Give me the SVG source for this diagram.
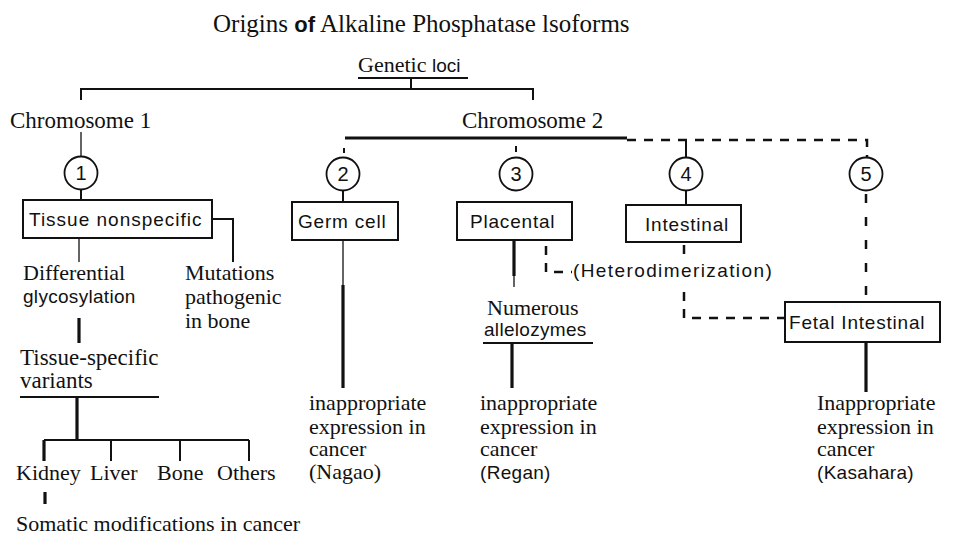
<svg xmlns="http://www.w3.org/2000/svg" width="957" height="538" viewBox="0 0 957 538">
<style>
.s{font-family:"Liberation Serif","Times New Roman",serif;font-size:22px;fill:#111}
.a{font-family:"Liberation Sans",Arial,sans-serif;font-size:19px;letter-spacing:0.8px;fill:#111}
.n{font-family:"Liberation Sans",Arial,sans-serif;font-size:20px;fill:#111;text-anchor:middle}
.box{fill:#fff;stroke:#111;stroke-width:2}
.c{fill:#fff;stroke:#111;stroke-width:1.8}
.l{stroke:#111;stroke-width:2;fill:none}
.t{stroke:#111;stroke-width:3.2;fill:none}
.th{stroke:#111;stroke-width:1.3;fill:none}
.d{stroke:#111;stroke-width:2.5;fill:none;stroke-dasharray:9 8}
.d2{stroke:#111;stroke-width:2.5;fill:none;stroke-dasharray:9 14}
</style>
<rect width="957" height="538" fill="#fff"/>
<g id="title"><text class="s" x="213" y="32" style="font-size:25px">Origins <tspan style="font-family:'Liberation Sans',Arial,sans-serif;font-weight:bold;font-size:22px">of</tspan> Alkaline Phosphatase lsoforms</text></g>
<g id="connectors">
<line class="l" x1="358" y1="78" x2="468" y2="78"/>
<line class="l" x1="411" y1="78" x2="411" y2="89"/>
<polyline class="l" points="81,100 81,89 533,89 533,100"/>
<line class="th" x1="81" y1="132" x2="81" y2="157"/>
<line class="l" x1="81" y1="190" x2="81" y2="200"/>
<polyline class="l" points="212,219 233,219 233,262"/>
<line class="th" x1="79" y1="238" x2="79" y2="262"/>
<line class="t" x1="79" y1="318" x2="79" y2="343"/>
<line class="l" x1="20" y1="397" x2="159" y2="397"/>
<line class="t" x1="77" y1="397" x2="77" y2="440"/>
<line class="l" x1="44" y1="440" x2="249" y2="440"/>
<line class="t" x1="44" y1="440" x2="44" y2="461"/>
<line class="l" x1="111" y1="440" x2="111" y2="461"/>
<line class="l" x1="180" y1="440" x2="180" y2="461"/>
<line class="l" x1="249" y1="440" x2="249" y2="461"/>
<line class="t" x1="45" y1="492" x2="45" y2="504"/>
<line class="t" x1="345" y1="138" x2="627" y2="138"/>
<polyline class="d" points="627,140 867,140 867,157"/>
<line class="l" x1="344" y1="148" x2="344" y2="153"/>
<line class="l" x1="516" y1="146" x2="516" y2="152"/>
<line class="l" x1="686" y1="140" x2="686" y2="157"/>
<line class="l" x1="343" y1="190" x2="343" y2="202"/>
<line class="l" x1="686" y1="190" x2="686" y2="205"/>
<line class="d2" x1="866" y1="194" x2="866" y2="302"/>
<line class="th" x1="343" y1="240" x2="343" y2="285"/>
<line class="t" x1="343" y1="285" x2="343" y2="388"/>
<line class="t" x1="514" y1="240" x2="514" y2="276"/>
<line class="th" x1="514" y1="276" x2="514" y2="287"/>
<line class="l" x1="483" y1="343" x2="593" y2="343"/>
<line class="t" x1="512" y1="343" x2="512" y2="388"/>
<line class="t" x1="866" y1="342" x2="866" y2="392"/>
<polyline class="d" points="546,246 546,272 572,272"/>
<line class="d" x1="684" y1="245" x2="684" y2="262"/>
<polyline class="d" points="684,292 684,318 785,318"/>
</g>
<g id="genetic-loci"><text class="s" x="358" y="72">Genetic <tspan class="a" style="letter-spacing:0">loci</tspan></text></g>
<g id="chromosome-1"><text class="s" x="10" y="128" style="font-size:23px">Chromosome 1</text></g>
<g id="chromosome-2"><text class="s" x="462" y="128" style="font-size:23px">Chromosome 2</text></g>
<g id="locus-1"><circle class="c" cx="81" cy="173" r="16.5"/><text class="n" x="81" y="180">1</text></g>
<g id="locus-2"><circle class="c" cx="343" cy="174" r="16.5"/><text class="n" x="343" y="181">2</text></g>
<g id="locus-3"><circle class="c" cx="516" cy="174" r="16.5"/><text class="n" x="516" y="181">3</text></g>
<g id="locus-4"><circle class="c" cx="686" cy="174" r="16.5"/><text class="n" x="686" y="181">4</text></g>
<g id="locus-5"><circle class="c" cx="866" cy="174" r="16.5"/><text class="n" x="866" y="181">5</text></g>
<g id="tissue-nonspecific"><rect class="box" x="23" y="200" width="189" height="38"/><text class="a" x="29" y="226" style="letter-spacing:1px">Tissue nonspecific</text></g>
<g id="germ-cell"><rect class="box" x="292" y="202" width="106" height="38"/><text class="a" x="298" y="228">Germ cell</text></g>
<g id="placental"><rect class="box" x="457" y="202" width="115" height="38"/><text class="a" x="470" y="228">Placental</text></g>
<g id="intestinal"><rect class="box" x="626" y="205" width="115" height="37"/><text class="a" x="645" y="231">Intestinal</text></g>
<g id="fetal-intestinal"><rect class="box" x="785" y="302" width="155" height="40"/><text class="a" x="789" y="329">Fetal Intestinal</text></g>
<g id="heterodimerization"><text class="a" x="573" y="277" style="letter-spacing:1.4px">(Heterodimerization)</text></g>
<g id="differential"><text class="s" x="23" y="280">Differential</text><text class="a" x="23" y="303" style="letter-spacing:0.3px">glycosylation</text></g>
<g id="mutations"><text class="s" x="185" y="280">Mutations</text><text class="s" x="185" y="304">pathogenic</text><text class="s" x="185" y="328">in bone</text></g>
<g id="tissue-specific"><text class="s" x="20" y="365" style="font-size:23px">Tissue-specific</text><text class="s" x="20" y="388" style="font-size:23px">variants</text></g>
<g id="kidney"><text class="s" x="16" y="480">Kidney</text></g>
<g id="liver"><text class="s" x="90" y="480">Liver</text></g>
<g id="bone"><text class="s" x="157" y="480">Bone</text></g>
<g id="others"><text class="s" x="217" y="480">Others</text></g>
<g id="somatic"><text class="s" x="16" y="531">Somatic modifications in cancer</text></g>
<g id="nagao"><text class="s" x="309" y="409.5">inappropriate</text><text class="s" x="309" y="433.5">expression in</text><text class="s" x="309" y="456">cancer</text><text class="s" x="309" y="478.5">(Nagao)</text></g>
<g id="numerous"><text class="s" x="487" y="315">Numerous</text><text class="a" x="484" y="336" style="letter-spacing:0.3px">allelozymes</text></g>
<g id="regan"><text class="s" x="480" y="409.5">inappropriate</text><text class="s" x="480" y="433.5">expression in</text><text class="s" x="480" y="456">cancer</text><text class="a" x="480" y="478.5" style="letter-spacing:0.3px">(Regan)</text></g>
<g id="kasahara"><text class="s" x="817" y="409.5">Inappropriate</text><text class="s" x="817" y="433.5">expression in</text><text class="s" x="817" y="456">cancer</text><text class="a" x="817" y="478.5" style="letter-spacing:0.3px">(Kasahara)</text></g>
</svg>
